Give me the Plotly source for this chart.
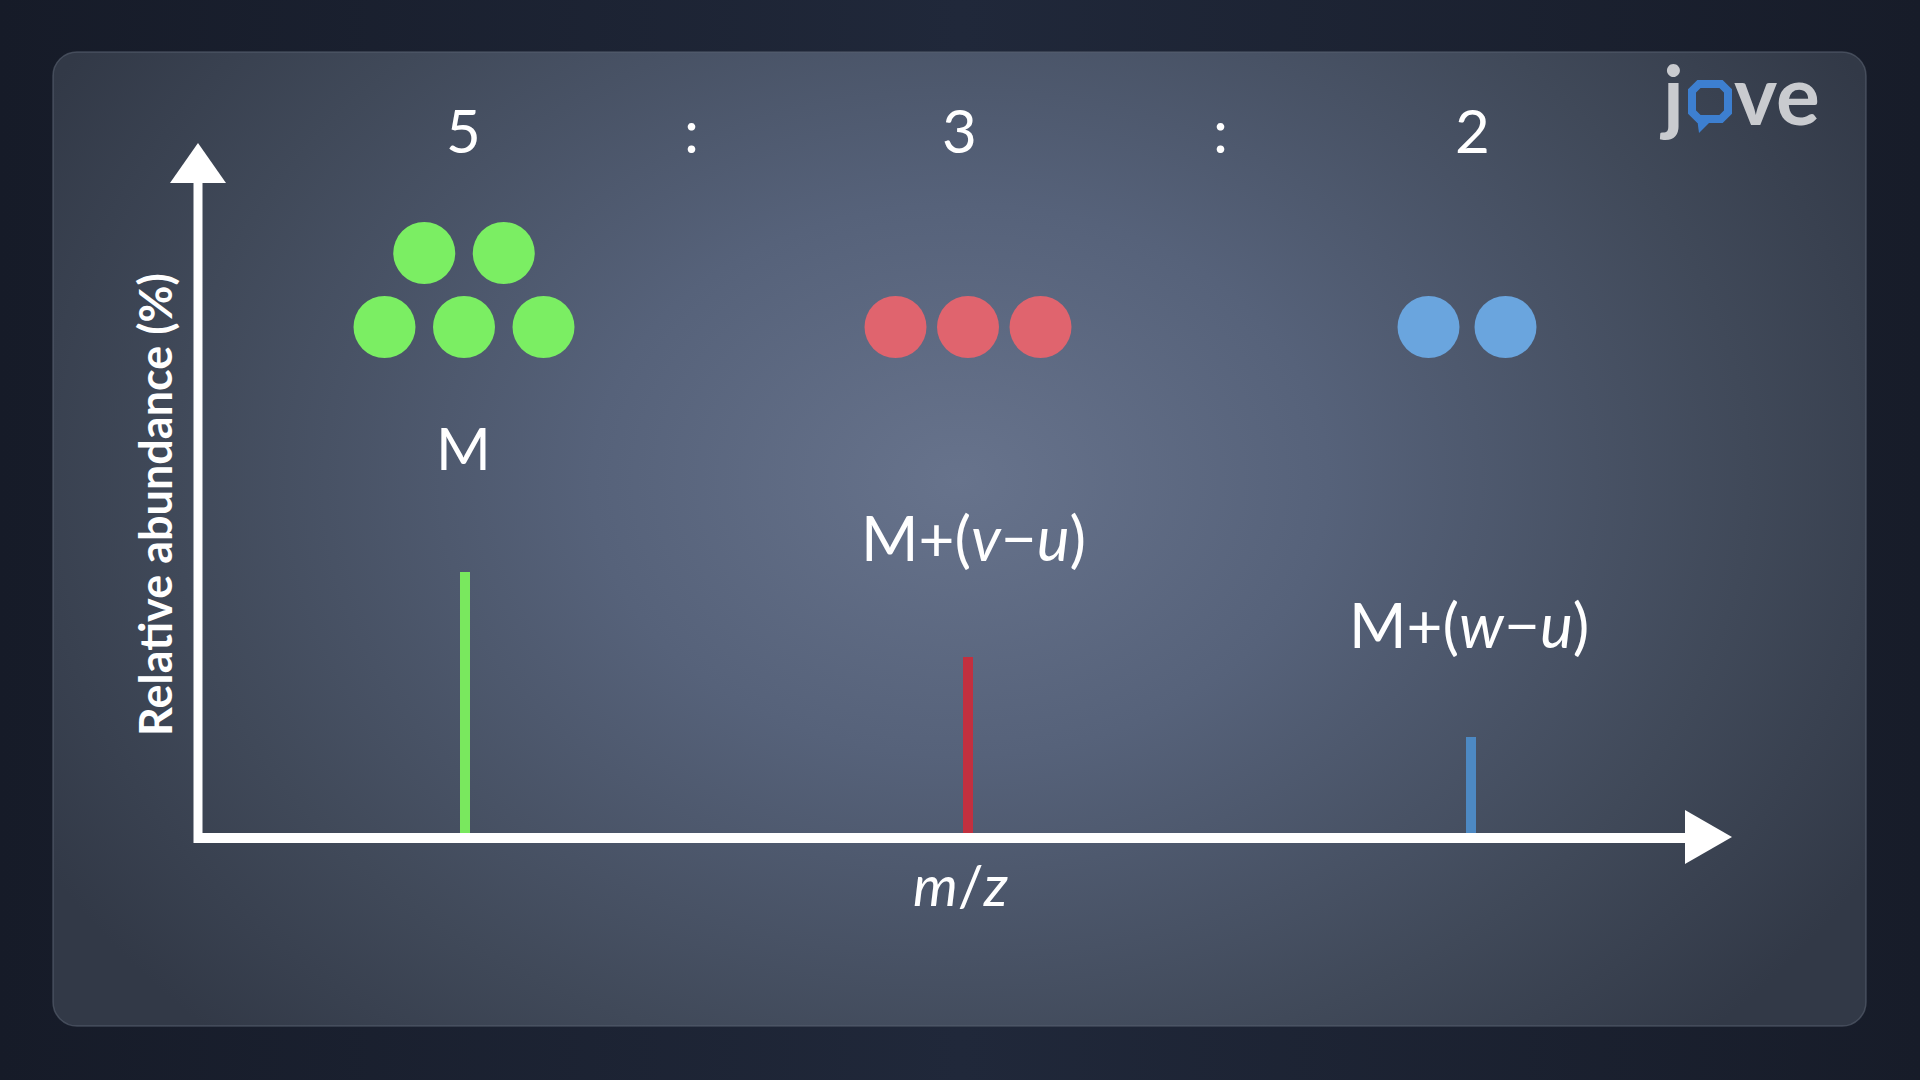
import base64
import plotly.graph_objects as go

# ---------------- data ----------------
peak_mz = [1, 2, 3]                      # relative m/z positions of the three isotopologue peaks
abundance = [100, 68, 38]                # relative abundance (%)
counts = [5, 3, 2]                       # ratio 5 : 3 : 2 (number of dots)
peak_labels = ["M", "M+(<i>v</i>−<i>u</i>)", "M+(<i>w</i>−<i>u</i>)"]
ratio_labels = ["5", "3", "2"]
bar_colors = ["#79e85e", "#c2303f", "#4d89c3"]
dot_colors = ["#7bee63", "#e0646e", "#6aa5de"]

W, H = 1920, 1080
# pixel mapping of the data axes
X0_PX, X_STEP = 465, 503       # x=1 at 465 px, one unit = 503 px
Y0_PX, Y_SCALE = 838, 2.66     # y=0 at 838 px, one unit = 2.66 px


def dx(px):
    return 1 + (px - X0_PX) / X_STEP


def dy(py):
    return (Y0_PX - py) / Y_SCALE


def pxr(x):
    return x / W


def pyr(y):
    return 1 - y / H


# ---------------- background (SVG with gradients) ----------------
svg = f"""<svg xmlns='http://www.w3.org/2000/svg' width='{W}' height='{H}' viewBox='0 0 {W} {H}'>
<defs>
<linearGradient id='bg' x1='0' y1='0' x2='1' y2='0'>
<stop offset='0' stop-color='#161b28'/>
<stop offset='0.5' stop-color='#20283a'/>
<stop offset='1' stop-color='#171c29'/>
</linearGradient>
<radialGradient id='pn' cx='960' cy='480' r='1050' gradientUnits='userSpaceOnUse' gradientTransform='translate(960 480) scale(1 0.75) translate(-960 -480)'>
<stop offset='0' stop-color='#67738c'/>
<stop offset='0.35' stop-color='#56627a'/>
<stop offset='0.75' stop-color='#404959'/>
<stop offset='1' stop-color='#323947'/>
</radialGradient>
</defs>
<rect x='0' y='0' width='{W}' height='{H}' fill='url(#bg)'/>
<rect x='53' y='52' width='1813' height='974' rx='24' ry='24' fill='url(#pn)' stroke='#5a6272' stroke-opacity='0.6' stroke-width='1.5'/>
</svg>"""
svg_uri = "data:image/svg+xml;base64," + base64.b64encode(svg.encode()).decode()

fig = go.Figure()

# ---------------- bars ----------------
fig.add_trace(go.Bar(
    x=peak_mz, y=abundance, width=10 / X_STEP,
    marker=dict(color=bar_colors, line=dict(width=0)),
    showlegend=False, hoverinfo="skip",
))

# ---------------- dots (ratio counts) ----------------
dot_spacing_px = [79.5, 72.5, 77]
dot_xshift_px = [-1, 0, -4]
row_y_px = [327, 253]
for mz, n, col, sp, sh in zip(peak_mz, counts, dot_colors, dot_spacing_px, dot_xshift_px):
    # bottom row holds up to 3, remaining dots go in the row above
    rows = [min(n, 3)]
    if n > 3:
        rows.append(n - 3)
    xs, ys = [], []
    for r, k in enumerate(rows):
        for i in range(k):
            xs.append(mz + ((i - (k - 1) / 2) * sp + sh) / X_STEP)
            ys.append(dy(row_y_px[r]))
    fig.add_trace(go.Scatter(
        x=xs, y=ys, mode="markers",
        marker=dict(size=62, color=col, line=dict(width=0)),
        showlegend=False, hoverinfo="skip",
    ))

# ---------------- axes arrows (shapes) ----------------
shapes = []
shapes.append(dict(type="line", xref="paper", yref="paper",
                   x0=pxr(198), x1=pxr(198), y0=pyr(843), y1=pyr(178),
                   line=dict(color="white", width=9), layer="above"))
shapes.append(dict(type="line", xref="paper", yref="paper",
                   x0=pxr(194), x1=pxr(1690), y0=pyr(838), y1=pyr(838),
                   line=dict(color="white", width=10), layer="above"))


def poly(pts, close=True):
    s = "M " + " L ".join(f"{pxr(a):.5f},{pyr(b):.5f}" for a, b in pts)
    return s + (" Z" if close else "")


shapes.append(dict(type="path", xref="paper", yref="paper",
                   path=poly([(198, 143), (226, 183), (170, 183)]),
                   fillcolor="white", line=dict(width=0), layer="above"))
shapes.append(dict(type="path", xref="paper", yref="paper",
                   path=poly([(1732, 837), (1685, 810), (1685, 864)]),
                   fillcolor="white", line=dict(width=0), layer="above"))

# logo speech bubble ("o" of jove)
LOGO_BLUE = "#3d7fd0"
bx0, by0, bx1, by1, rr = 1692, 84, 1728, 119, 7
bubble = [
    (bx0 + rr, by0), (bx1 - rr, by0), (bx1, by0 + rr), (bx1, by1 - rr),
    (bx1 - rr, by1), (bx0 + rr, by1), (bx0, by1 - rr), (bx0, by0 + rr),
]
shapes.append(dict(type="path", xref="paper", yref="paper", path=poly(bubble),
                   fillcolor="rgba(0,0,0,0)", line=dict(color=LOGO_BLUE, width=8), layer="above"))
shapes.append(dict(type="path", xref="paper", yref="paper",
                   path=poly([(1697, 118), (1714, 118), (1699, 133)]),
                   fillcolor=LOGO_BLUE, line=dict(width=0), layer="above"))

# ---------------- text ----------------
ann = []
FONT = "Lato"
ratio_xshift = [-2, -9, 1]
for mz, t, xs in zip(peak_mz, ratio_labels, ratio_xshift):
    ann.append(dict(x=mz, xref="x", y=pyr(130), yref="paper", text=t, showarrow=False,
                    xshift=xs, font=dict(family=FONT, size=60, color="white"),
                    xanchor="center", yanchor="middle"))
for cx in [691, 1220]:
    ann.append(dict(x=pxr(cx), xref="paper", y=pyr(130), yref="paper", text=":", showarrow=False,
                    font=dict(family=FONT, size=60, color="white"),
                    xanchor="center", yanchor="middle"))

label_y_px = [448, 537, 624]
label_xshift = [-2, 5, -2]
label_size = [59, 62, 62]
for mz, t, ly, xs, fs in zip(peak_mz, peak_labels, label_y_px, label_xshift, label_size):
    ann.append(dict(x=mz, xref="x", y=pyr(ly), yref="paper", text=t, showarrow=False,
                    xshift=xs, font=dict(family=FONT, size=fs, color="white"),
                    xanchor="center", yanchor="middle"))

ann.append(dict(x=pxr(960), xref="paper", y=pyr(884), yref="paper", text="<i>m</i>/<i>z</i>",
                showarrow=False, font=dict(family=FONT, size=57, color="white"),
                xanchor="center", yanchor="middle"))
ann.append(dict(x=pxr(155), xref="paper", y=pyr(505), yref="paper",
                text="<b>Relative abundance (%)</b>", textangle=-90, showarrow=False,
                font=dict(family=FONT, size=45, color="white"),
                xanchor="center", yanchor="middle"))
# logo letters
ann.append(dict(x=pxr(1686), xref="paper", y=pyr(93), yref="paper",
                text="<b>j</b>", showarrow=False,
                font=dict(family=FONT, size=82, color="#c9cbcf"),
                xanchor="right", yanchor="middle"))
ann.append(dict(x=pxr(1732), xref="paper", y=pyr(93), yref="paper",
                text="<b>ve</b>", showarrow=False,
                font=dict(family=FONT, size=82, color="#c9cbcf"),
                xanchor="left", yanchor="middle"))

fig.update_layout(
    width=W, height=H,
    margin=dict(l=0, r=0, t=0, b=0, pad=0),
    paper_bgcolor="#1b2130", plot_bgcolor="rgba(0,0,0,0)",
    xaxis=dict(range=[dx(0), dx(W)], visible=False, fixedrange=True),
    yaxis=dict(range=[dy(H), dy(0)], visible=False, fixedrange=True),
    images=[dict(source=svg_uri, xref="paper", yref="paper", x=0, y=1,
                 sizex=1, sizey=1, sizing="stretch", layer="below", xanchor="left", yanchor="top")],
    shapes=shapes,
    annotations=ann,
    bargap=0,
    showlegend=False,
)

fig.write_html("out.html", config=dict(displayModeBar=False, staticPlot=True),
               post_script="document.body.style.margin='0';document.body.style.overflow='hidden';")
